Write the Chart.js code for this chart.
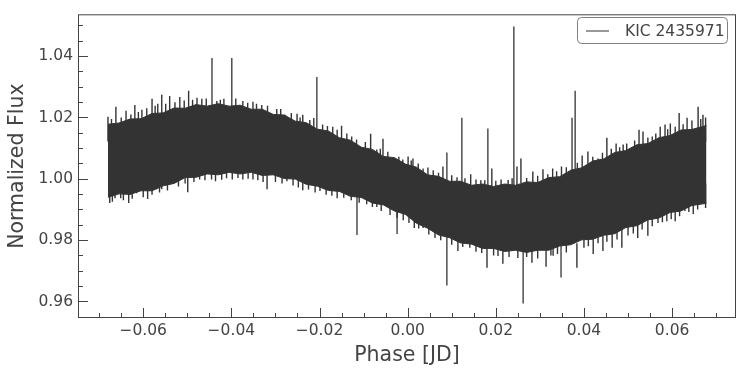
<!DOCTYPE html>
<html>
<head>
<meta charset="utf-8">
<script src="https://cdn.jsdelivr.net/npm/chart.js@4.4.1/dist/chart.umd.min.js"></script>
<style>
  html, body { margin: 0; padding: 0; background: #fff; }
</style>
</head>
<body>
<canvas id="lc" width="746" height="376"></canvas>
<script>
// light curve label
const seriesLabel = "KIC 2435971";

// solid band edges
const edgePhase = [-0.0680, -0.0655, -0.0630, -0.0605, -0.0580, -0.0555, -0.0530, -0.0505, -0.0480, -0.0455,
  -0.0430, -0.0405, -0.0380, -0.0355, -0.0330, -0.0305, -0.0280, -0.0255, -0.0230, -0.0205,
  -0.0180, -0.0155, -0.0130, -0.0105, -0.0080, -0.0055, -0.0030, -0.0005, 0.0020, 0.0045,
  0.0070, 0.0095, 0.0120, 0.0145, 0.0170, 0.0195, 0.0220, 0.0245, 0.0270, 0.0295,
  0.0320, 0.0345, 0.0370, 0.0395, 0.0420, 0.0445, 0.0470, 0.0495, 0.0520, 0.0545,
  0.0570, 0.0595, 0.0620, 0.0645, 0.0678];
const edgeUpper = [1.0178, 1.0182, 1.0195, 1.0196, 1.0213, 1.0215, 1.0231, 1.0230, 1.0242, 1.0237,
  1.0245, 1.0237, 1.0240, 1.0227, 1.0227, 1.0210, 1.0208, 1.0188, 1.0183, 1.0162,
  1.0156, 1.0134, 1.0126, 1.0103, 1.0096, 1.0073, 1.0069, 1.0048, 1.0038, 1.0013,
  1.0008, 0.9992, 0.9992, 0.9979, 0.9983, 0.9975, 0.9983, 0.9979, 0.9990, 0.9988,
  1.0004, 1.0007, 1.0028, 1.0036, 1.0058, 1.0065, 1.0086, 1.0092, 1.0111, 1.0115,
  1.0134, 1.0141, 1.0159, 1.0161, 1.0174];
const edgeLower = [0.9940, 0.9951, 0.9949, 0.9961, 0.9961, 0.9977, 0.9985, 1.0004, 1.0005, 1.0016,
  1.0013, 1.0021, 1.0016, 1.0021, 1.0011, 1.0013, 1.0001, 0.9999, 0.9982, 0.9976,
  0.9962, 0.9959, 0.9943, 0.9939, 0.9921, 0.9915, 0.9895, 0.9884, 0.9855, 0.9839,
  0.9817, 0.9808, 0.9791, 0.9787, 0.9773, 0.9773, 0.9763, 0.9767, 0.9760, 0.9767,
  0.9767, 0.9781, 0.9785, 0.9801, 0.9803, 0.9816, 0.9821, 0.9841, 0.9847, 0.9866,
  0.9872, 0.9890, 0.9895, 0.9913, 0.9920];

// tall noise needles above the band
const upPhase = [-0.0680, -0.0662, -0.0639, -0.0619, -0.0603, -0.0580, -0.0567, -0.0558, -0.0540, -0.0517,
  -0.0497, -0.0478, -0.0467, -0.0433, -0.0417, -0.0374, -0.0363, -0.0351, -0.0331, -0.0297,
  -0.0278, -0.0251, -0.0238, -0.0193, -0.0170, -0.0150, -0.0127, -0.0084, -0.0070, -0.0056,
  -0.0036, -0.0011, 0.0001, 0.0012, 0.0035, 0.0046, 0.0080, 0.0143, 0.0166, 0.0191,
  0.0212, 0.0248, 0.0257, 0.0284, 0.0307, 0.0329, 0.0349, 0.0396, 0.0409, 0.0432,
  0.0452, 0.0473, 0.0489, 0.0505, 0.0525, 0.0534, 0.0555, 0.0573, 0.0584, 0.0596,
  0.0616, 0.0634, 0.0659, 0.0670];
const upFlux = [1.0202, 1.0235, 1.0222, 1.0241, 1.0225, 1.0261, 1.0245, 1.0274, 1.0270, 1.0267,
  1.0287, 1.0264, 1.0261, 1.0254, 1.0261, 1.0254, 1.0248, 1.0251, 1.0241, 1.0228,
  1.0209, 1.0212, 1.0209, 1.0177, 1.0170, 1.0173, 1.0138, 1.0147, 1.0096, 1.0131,
  1.0066, 1.0063, 1.0073, 1.0066, 1.0034, 1.0037, 1.0040, 1.0015, 0.9995, 1.0034,
  0.9998, 1.0040, 1.0066, 1.0024, 1.0031, 1.0034, 1.0040, 1.0076, 1.0089, 1.0066,
  1.0134, 1.0115, 1.0112, 1.0099, 1.0160, 1.0154, 1.0138, 1.0170, 1.0177, 1.0180,
  1.0215, 1.0199, 1.0235, 1.0209];

// short noise needles above the band
const fineUpPhase = [-0.0672, -0.0650, -0.0628, -0.0611, -0.0592, -0.0573, -0.0549, -0.0528, -0.0507, -0.0488,
  -0.0457, -0.0425, -0.0390, -0.0343, -0.0318, -0.0288, -0.0264, -0.0244, -0.0222, -0.0213,
  -0.0182, -0.0160, -0.0138, -0.0116, -0.0096, -0.0062, -0.0045, -0.0020, 0.0008, 0.0024,
  0.0058, 0.0070, 0.0100, 0.0112, 0.0130, 0.0155, 0.0175, 0.0200, 0.0228, 0.0237,
  0.0270, 0.0295, 0.0318, 0.0338, 0.0360, 0.0385, 0.0420, 0.0442, 0.0462, 0.0481,
  0.0497, 0.0515, 0.0545, 0.0563, 0.0590, 0.0607, 0.0625, 0.0645, 0.0665, 0.0676];
const fineUpFlux = [1.0195, 1.0200, 1.0210, 1.0218, 1.0230, 1.0238, 1.0245, 1.0250, 1.0255, 1.0258,
  1.0262, 1.0258, 1.0262, 1.0245, 1.0238, 1.0228, 1.0215, 1.0200, 1.0192, 1.0198,
  1.0172, 1.0160, 1.0148, 1.0128, 1.0120, 1.0098, 1.0088, 1.0072, 1.0060, 1.0050,
  1.0028, 1.0020, 1.0012, 1.0005, 1.0002, 0.9998, 0.9995, 0.9994, 0.9996, 1.0002,
  1.0003, 1.0010, 1.0015, 1.0025, 1.0038, 1.0052, 1.0072, 1.0085, 1.0098, 1.0103,
  1.0115, 1.0125, 1.0135, 1.0148, 1.0162, 1.0170, 1.0178, 1.0190, 1.0195, 1.0200];

// tall noise needles below the band
const downPhase = [-0.0676, -0.0664, -0.0651, -0.0633, -0.0615, -0.0590, -0.0570, -0.0558, -0.0531, -0.0499,
  -0.0472, -0.0436, -0.0411, -0.0374, -0.0351, -0.0319, -0.0274, -0.0238, -0.0199, -0.0160,
  -0.0093, -0.0070, -0.0024, 0.0003, 0.0035, 0.0062, 0.0114, 0.0141, 0.0180, 0.0216,
  0.0282, 0.0314, 0.0330, 0.0384, 0.0421, 0.0443, 0.0464, 0.0486, 0.0522, 0.0545,
  0.0568, 0.0588, 0.0607, 0.0629, 0.0648, 0.0670];
const downFlux = [0.9921, 0.9937, 0.9937, 0.9921, 0.9953, 0.9934, 0.9966, 0.9966, 0.9992, 0.9956,
  0.9998, 0.9992, 1.0002, 0.9998, 0.9998, 0.9966, 0.9992, 0.9963, 0.9960, 0.9937,
  0.9917, 0.9908, 0.9872, 0.9856, 0.9840, 0.9807, 0.9765, 0.9775, 0.9710, 0.9723,
  0.9726, 0.9713, 0.9749, 0.9710, 0.9755, 0.9765, 0.9775, 0.9775, 0.9807, 0.9814,
  0.9856, 0.9862, 0.9862, 0.9895, 0.9885, 0.9921];

// short noise needles below the band
const fineDownPhase = [-0.0670, -0.0645, -0.0625, -0.0600, -0.0580, -0.0563, -0.0545, -0.0520, -0.0505, -0.0485,
  -0.0460, -0.0445, -0.0422, -0.0398, -0.0385, -0.0362, -0.0340, -0.0328, -0.0300, -0.0285,
  -0.0260, -0.0248, -0.0225, -0.0210, -0.0185, -0.0172, -0.0145, -0.0128, -0.0110, -0.0080,
  -0.0060, -0.0040, -0.0010, 0.0015, 0.0025, 0.0048, 0.0075, 0.0100, 0.0125, 0.0155,
  0.0168, 0.0195, 0.0205, 0.0230, 0.0250, 0.0270, 0.0295, 0.0325, 0.0340, 0.0360,
  0.0400, 0.0410, 0.0432, 0.0452, 0.0475, 0.0500, 0.0512, 0.0532, 0.0555, 0.0578,
  0.0598, 0.0617, 0.0638, 0.0658, 0.0676];
const fineDownFlux = [0.9925, 0.9930, 0.9935, 0.9940, 0.9948, 0.9955, 0.9962, 0.9975, 0.9985, 0.9990,
  0.9995, 0.9998, 0.9997, 0.9998, 1.0003, 1.0000, 0.9995, 0.9990, 0.9990, 0.9985,
  0.9978, 0.9972, 0.9965, 0.9955, 0.9948, 0.9945, 0.9938, 0.9930, 0.9922, 0.9908,
  0.9895, 0.9882, 0.9865, 0.9840, 0.9838, 0.9818, 0.9800, 0.9785, 0.9778, 0.9762,
  0.9758, 0.9750, 0.9748, 0.9745, 0.9742, 0.9745, 0.9740, 0.9750, 0.9755, 0.9760,
  0.9775, 0.9780, 0.9790, 0.9795, 0.9802, 0.9815, 0.9822, 0.9835, 0.9845, 0.9858,
  0.9868, 0.9878, 0.9892, 0.9900, 0.9905];

// big outliers: phase, start, end
const outPhase = [-0.0444, -0.0399, -0.0206, -0.0115, -0.0024, 0.0089, 0.0123, 0.0182, 0.0241, 0.0262, 0.0348, 0.0373, 0.0380];
const outFrom = [1.020, 1.020, 1.013, 0.998, 0.992, 0.9652, 0.996, 0.995, 0.995, 0.990, 0.985, 0.999, 0.999];
const outTo = [1.0394, 1.0394, 1.0332, 0.9817, 0.9820, 1.0086, 1.0199, 1.0164, 1.0497, 0.9593, 0.9678, 1.0199, 1.0287];

// ticks
const xTicks = [-0.06, -0.04, -0.02, 0.00, 0.02, 0.04, 0.06];
const xMinor = [-0.07, -0.065, -0.055, -0.05, -0.045, -0.035, -0.03, -0.025, -0.015, -0.01, -0.005,
  0.005, 0.01, 0.015, 0.025, 0.03, 0.035, 0.045, 0.05, 0.055, 0.065, 0.07];
const yTicks = [0.96, 0.98, 1.00, 1.02, 1.04];
const yMinor = [0.955, 0.965, 0.97, 0.975, 0.985, 0.99, 0.995, 1.005, 1.01, 1.015, 1.025, 1.03, 1.035, 1.045, 1.05];

const needleLen = 0.008;
const ink = "#333333";
const textColor = "#444444";
const font = "DejaVu Sans";

const fmt = (v) => v.toFixed(2).replace("-", "\u2212");

// each needle runs from its tip back into the band
const needles = [];
const addNeedles = (phases, tips, dir) => {
  phases.forEach((p, i) => {
    needles.push({ x: p, y: tips[i] }, { x: p, y: tips[i] + dir * needleLen }, { x: p, y: null });
  });
};
addNeedles(upPhase, upFlux, -1);
addNeedles(fineUpPhase, fineUpFlux, -1);
addNeedles(downPhase, downFlux, 1);
addNeedles(fineDownPhase, fineDownFlux, 1);

const outliers = [];
outPhase.forEach((p, i) => {
  outliers.push({ x: p, y: outFrom[i] }, { x: p, y: outTo[i] }, { x: p, y: null });
});

// frame, inward ticks and legend box
const framePlugin = {
  id: "frame",
  afterDraw(chart) {
    const { ctx, chartArea: a, scales: { x, y } } = chart;
    ctx.save();
    ctx.strokeStyle = textColor;
    ctx.lineWidth = 1;
    ctx.strokeRect(a.left + 0.5, a.top + 0.5, a.right - a.left - 1, a.bottom - a.top - 1);

    ctx.beginPath();
    const xt = (v, len) => {
      const px = Math.round(x.getPixelForValue(v)) + 0.5;
      ctx.moveTo(px, a.bottom);
      ctx.lineTo(px, a.bottom - len);
    };
    const yt = (v, len) => {
      const py = Math.round(y.getPixelForValue(v)) + 0.5;
      ctx.moveTo(a.left, py);
      ctx.lineTo(a.left + len, py);
    };
    xTicks.forEach((v) => xt(v, 10));
    xMinor.forEach((v) => xt(v, 5));
    yTicks.forEach((v) => yt(v, 10));
    yMinor.forEach((v) => yt(v, 5));
    ctx.stroke();

    // legend
    const lx = 577.5, ly = 17.5, lw = 150, lh = 26;
    ctx.fillStyle = "rgba(255,255,255,0.85)";
    ctx.strokeStyle = "#808080";
    ctx.beginPath();
    ctx.roundRect(lx, ly, lw, lh, 4);
    ctx.fill();
    ctx.stroke();
    ctx.strokeStyle = ink;
    ctx.beginPath();
    ctx.moveTo(586, 31);
    ctx.lineTo(609, 31);
    ctx.stroke();
    ctx.fillStyle = textColor;
    ctx.font = "15.5px '" + font + "'";
    ctx.textBaseline = "middle";
    ctx.textAlign = "left";
    ctx.fillText(seriesLabel, 625, 31.5);
    ctx.restore();
  }
};

const lineStyle = {
  type: "line",
  borderColor: ink,
  borderWidth: 1,
  pointRadius: 0,
  tension: 0
};

new Chart(document.getElementById("lc"), {
  type: "line",
  data: {
    datasets: [
      { ...lineStyle, label: "lower", data: edgePhase.map((p, i) => ({ x: p, y: edgeLower[i] })), fill: false },
      { ...lineStyle, label: seriesLabel, data: edgePhase.map((p, i) => ({ x: p, y: edgeUpper[i] })), fill: "-1", backgroundColor: ink },
      { ...lineStyle, label: "needles", data: needles, borderWidth: 1.4, spanGaps: false, fill: false },
      { ...lineStyle, label: "outliers", data: outliers, borderWidth: 1.3, spanGaps: false, fill: false }
    ]
  },
  options: {
    responsive: false,
    animation: false,
    layout: { padding: { top: 11, right: 10, left: 0, bottom: 0 } },
    plugins: { legend: { display: false }, tooltip: { enabled: false } },
    scales: {
      x: {
        type: "linear",
        min: -0.0748,
        max: 0.0745,
        grid: { display: false, drawTicks: false },
        border: { display: false },
        afterBuildTicks: (s) => { s.ticks = xTicks.map((v) => ({ value: v })); },
        afterFit: (s) => { s.height = 58; },
        ticks: {
          callback: (v) => fmt(v),
          color: textColor,
          padding: 4,
          maxRotation: 0,
          font: { family: font, size: 15.5 }
        },
        title: {
          display: true,
          text: "Phase [JD]",
          color: textColor,
          font: { family: font, size: 20.5 },
          padding: { top: 0, bottom: 8 }
        }
      },
      y: {
        type: "linear",
        min: 0.95461,
        max: 1.05365,
        grid: { display: false, drawTicks: false },
        border: { display: false },
        afterBuildTicks: (s) => { s.ticks = yTicks.map((v) => ({ value: v })); },
        afterFit: (s) => { s.width = 78; },
        ticks: {
          callback: (v) => fmt(v),
          color: textColor,
          padding: 5,
          font: { family: font, size: 15.5 }
        },
        title: {
          display: true,
          text: "Normalized Flux",
          color: textColor,
          font: { family: font, size: 20.5 },
          padding: { top: 5, bottom: 0 }
        }
      }
    }
  },
  plugins: [framePlugin]
});
</script>
</body>
</html>
